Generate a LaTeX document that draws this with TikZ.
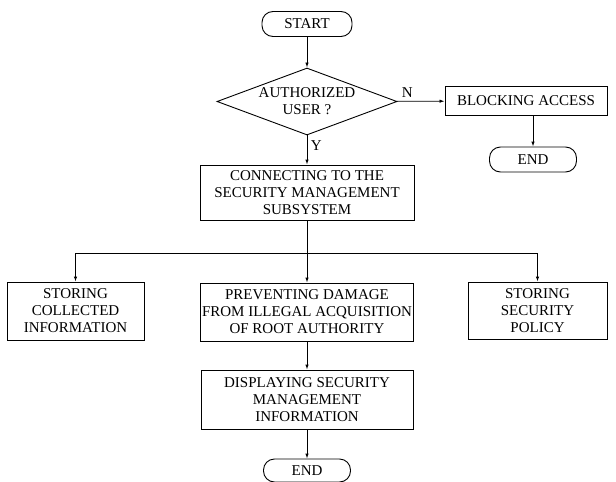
\documentclass[tikz,border=0pt]{standalone}
\usepackage{fontspec}
\setmainfont{Liberation Serif}
\usetikzlibrary{shapes.geometric,arrows.meta}

\begin{document}
\begin{tikzpicture}[x=1pt,y=-1pt,
    box/.style={draw,line width=0.9pt,align=center,inner sep=0pt,
      font=\fontsize{15}{17}\selectfont},
    term/.style={box,rounded corners=11pt},
    arr/.style={draw,line width=0.9pt,-{Latex[length=5pt,width=3.5pt]}}]

  \useasboundingbox (0,0) rectangle (616,482);

  \begin{scope}[every node/.style={box}]
    \node[term,minimum width=90pt,minimum height=25pt] (start) at (307,24) {START};
    \node[diamond,aspect=2.7,minimum width=180pt,minimum height=67pt]
      (auth) at (307,101.5) {AUTHORIZED\\USER ?};
    \node[minimum width=162pt,minimum height=29pt] (block) at (526,101) {BLOCKING ACCESS};
    \node[term,minimum width=87pt,minimum height=25pt] (end1) at (533,159.5) {END};
    \node[minimum width=214pt,minimum height=55pt] (conn) at (307,192.5)
      {CONNECTING TO THE\\SECURITY MANAGEMENT\\SUBSYSTEM};
    \node[minimum width=137pt,minimum height=58pt] (store) at (75.5,311)
      {STORING\\COLLECTED\\INFORMATION};
    \node[minimum width=213pt,minimum height=58pt] (prev) at (307,312)
      {PREVENTING DAMAGE\\FROM ILLEGAL ACQUISITION\\OF ROOT AUTHORITY};
    \node[minimum width=139pt,minimum height=57pt] (policy) at (537.5,310.5)
      {STORING\\SECURITY\\POLICY};
    \node[minimum width=212pt,minimum height=59pt] (disp) at (307,399.5)
      {DISPLAYING SECURITY\\MANAGEMENT\\INFORMATION};
    \node[term,minimum width=87pt,minimum height=23pt] (end2) at (307,470.5) {END};
  \end{scope}

  \coordinate (junc) at (307,253);

  \begin{scope}[every node/.style={font=\fontsize{15}{17}\selectfont}]
    \path (start) edge[arr] (auth);
    \path (auth)  edge[arr] node[above,pos=0.22] {N} (block);
    \path (auth)  edge[arr] node[right,pos=0.35] {Y} (conn);
    \path (end1 |- block.south) edge[arr] (end1);
    \path (conn)  edge[arr] (prev);
    \draw[arr] (junc) -| (store);
    \draw[arr] (junc) -| (policy);
    \path (prev)  edge[arr] (disp);
    \path (disp)  edge[arr] (end2);
  \end{scope}

\end{tikzpicture}
\end{document}
